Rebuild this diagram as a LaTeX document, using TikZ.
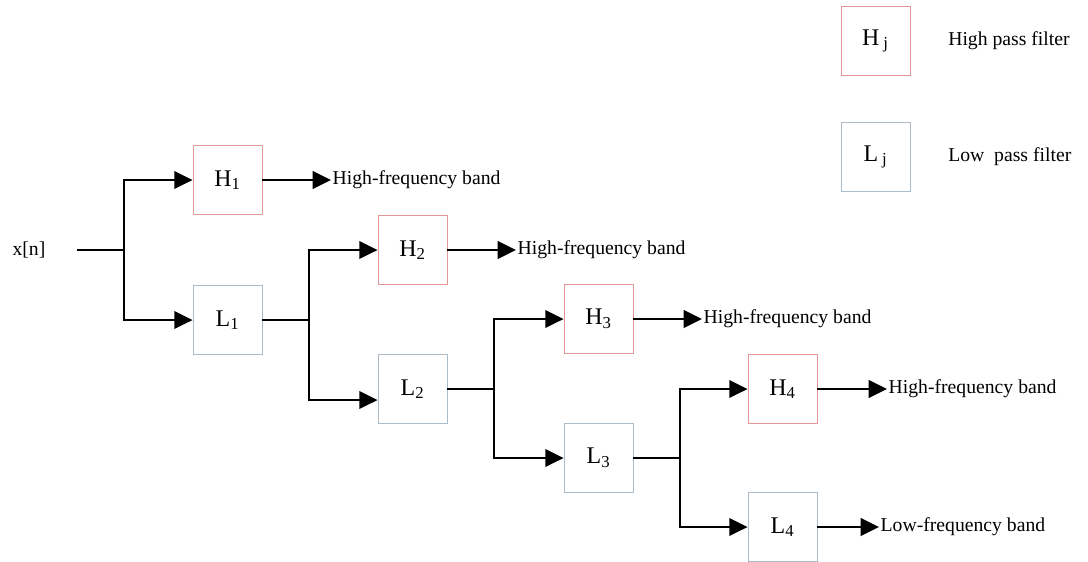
\documentclass[tikz,border=0pt]{standalone}
\usepackage{fontspec}
\setmainfont{Liberation Serif}
\usetikzlibrary{arrows.meta}
\definecolor{hcol}{RGB}{226,150,150}
\definecolor{lcol}{RGB}{168,188,204}
\begin{document}
\begin{tikzpicture}[x=0.025cm, y=-0.025cm, font=\fontsize{14}{17}\selectfont,
    hbox/.style={draw=hcol, line width=0.6pt, minimum size=1.725cm, inner sep=0pt,
      font=\fontsize{17}{20}\selectfont},
    lbox/.style={draw=lcol, line width=0.6pt, minimum size=1.725cm, inner sep=0pt,
      font=\fontsize{17}{20}\selectfont},
    wire/.style={line width=1.5pt},
    arr/.style={line width=1.5pt, -{Triangle[length=13pt, width=12.5pt]}},
    band/.style={anchor=west, inner sep=1pt}]
    \useasboundingbox (0,0) rectangle (1088,561);

    % legend
    \node[hbox] (Hj) at (875.5,41) {H\,\textsubscript{j}};
    \node[anchor=west, inner sep=0pt] (hlab) at (948,41) {High pass filter};
    \node[lbox] (Lj) at (875.5,157) {L\,\textsubscript{j}};
    \node[anchor=west, inner sep=0pt] (llab) at (948,157) {Low~~pass filter};

    % input
    \node[inner sep=0pt] (xn) at (29,250) {x[n]};
    \coordinate (s) at (77,250);
    \coordinate (b1) at (124,250);

    % filters
    \node[hbox] (H1) at (227.5,180) {H\textsubscript{1}};
    \node[lbox] (L1) at (227.5,320) {L\textsubscript{1}};
    \node[hbox] (H2) at (412.5,250) {H\textsubscript{2}};
    \node[lbox] (L2) at (412.5,389) {L\textsubscript{2}};
    \node[hbox] (H3) at (598.5,319) {H\textsubscript{3}};
    \node[lbox] (L3) at (598.5,458) {L\textsubscript{3}};
    \node[hbox] (H4) at (782.5,389) {H\textsubscript{4}};
    \node[lbox] (L4) at (782.5,527) {L\textsubscript{4}};

    % branch points
    \coordinate (b2) at (309,320);
    \coordinate (b3) at (494,389);
    \coordinate (b4) at (680,458);

    % outputs
    \node[band] (o1) at (331,180) {High-frequency band};
    \node[band] (o2) at (516,250) {High-frequency band};
    \node[band] (o3) at (702,319) {High-frequency band};
    \node[band] (o4) at (887,389) {High-frequency band};
    \node[band] (o5) at (879,527) {Low-frequency band};

    % connections
    \draw[wire] (s) -- (b1);
    \draw[arr] (b1) |- (H1.west);
    \draw[arr] (b1) |- (L1.west);
    \draw[wire] (L1.east) -- (b2);
    \draw[arr] (b2) |- (H2.west);
    \draw[arr] (b2) |- ([yshift=-0.275cm]L2.west);
    \draw[wire] (L2.east) -- (b3);
    \draw[arr] (b3) |- (H3.west);
    \draw[arr] (b3) |- (L3.west);
    \draw[wire] (L3.east) -- (b4);
    \draw[arr] (b4) |- (H4.west);
    \draw[arr] (b4) |- (L4.west);

    \draw[arr] (H1.east) -- (o1.west);
    \draw[arr] (H2.east) -- (o2.west);
    \draw[arr] (H3.east) -- (o3.west);
    \draw[arr] (H4.east) -- (o4.west);
    \draw[arr] (L4.east) -- (o5.west);
  \end{tikzpicture}
\end{document}
